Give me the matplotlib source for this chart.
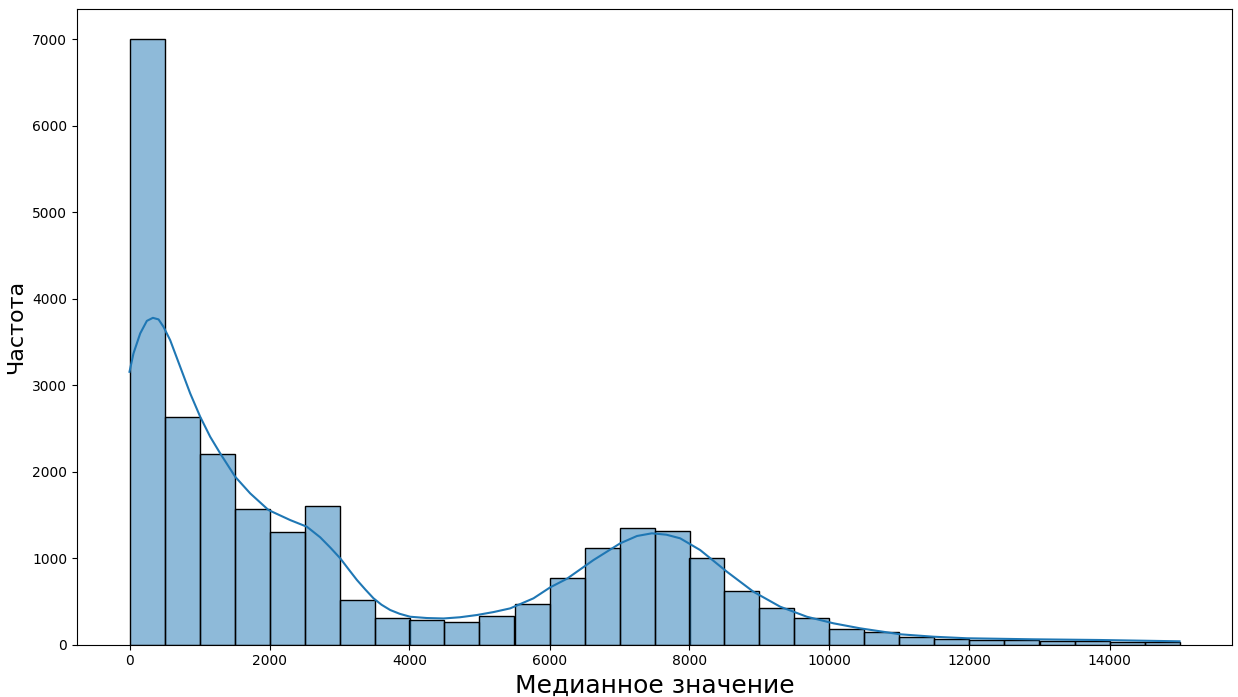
import numpy as np
import matplotlib.pyplot as plt

# границы интервалов гистограммы (шаг 500)
bin_left = [0, 500, 1000, 1500, 2000, 2500, 3000, 3500, 4000, 4500,
            5000, 5500, 6000, 6500, 7000, 7500, 8000, 8500, 9000, 9500,
            10000, 10500, 11000, 11500, 12000, 12500, 13000, 13500, 14000, 14500]
counts = [7000, 2635, 2200, 1563, 1305, 1600, 509, 312, 289, 262,
          331, 463, 765, 1120, 1344, 1311, 996, 616, 418, 303,
          179, 141, 88, 68, 56, 55, 45, 44, 33, 30]

# точки сглаженной кривой (KDE)
kde_x = [0, 57, 153, 248, 334, 415, 486, 581, 724, 867, 1010, 1153, 1296,
         1510, 1724, 1986, 2296, 2534, 2724, 2870, 3010, 3130, 3249, 3370,
         3486, 3600, 3724, 3860, 4010, 4250, 4486, 4720, 4963, 5200, 5439,
         5771, 6010, 6248, 6629, 7010, 7250, 7463, 7670, 7867, 8153, 8534,
         8914, 9296, 9677, 10057, 10439, 11010, 11486, 11963, 12914, 13867, 15000]
kde_y = [3154, 3367, 3598, 3743, 3778, 3760, 3674, 3520, 3212, 2904, 2634, 2402, 2210,
         1940, 1748, 1555, 1439, 1362, 1240, 1120, 997, 870, 746, 635,
         534, 460, 399, 355, 321, 306, 301, 315, 341, 375, 418,
         534, 661, 760, 977, 1170, 1255, 1286, 1270, 1228, 1092, 842,
         610, 437, 321, 245, 187, 118, 90, 72, 60, 52, 37]

fig, ax = plt.subplots(figsize=(12.38, 6.97), dpi=100)
fig.subplots_adjust(left=77/1238, right=1232/1238, top=1-9/697, bottom=1-644.5/697)

ax.bar(bin_left, counts, width=500, align='edge',
       facecolor=(31/255, 119/255, 180/255, 0.5), edgecolor='black', linewidth=1)
ax.plot(kde_x, kde_y, color='#1f77b4', linewidth=1.5)

ax.set_xlabel('Медианное значение', fontsize=18)
ax.set_ylabel('Частота', fontsize=16)
ax.set_xticks(np.arange(0, 15000, 2000))

plt.savefig('out.png', dpi=100)
